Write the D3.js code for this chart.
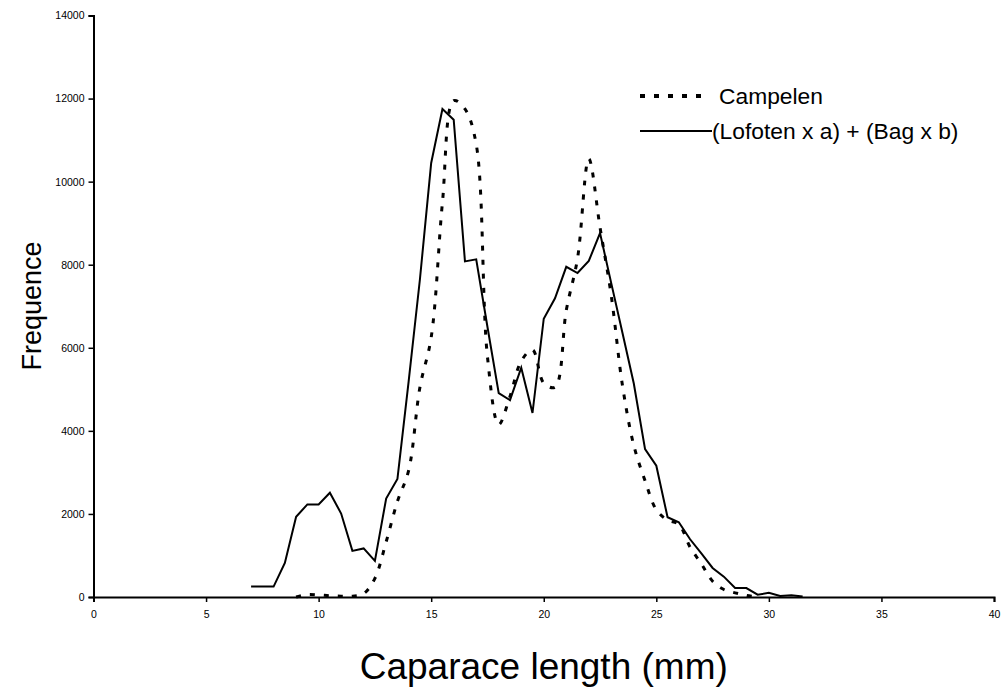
<!DOCTYPE html>
<html>
<head>
  <meta charset="UTF-8">
  <style>
    body { margin: 0; background: #fff; }
    text { font-family: Arial, "Liberation Sans", sans-serif; fill: #000; }
  </style>
</head>
<body>
<script src="https://d3js.org/d3.v7.min.js"></script>
<script>
// carapace length classes (mm) and frequencies
var lengthCampelen = [9,9.5,10,10.5,11,11.5,12,12.5,13,13.5,14,14.5,15,15.5,16,16.5,17,17.5,18,18.5,19,19.5,20,20.5,21,21.5,22,22.5,23,23.5,24,24.5,25,25.5,26,26.5,27,27.5,28,28.5,29,29.5];
var freqCampelen = [0,60,50,30,20,20,80,450,1330,2300,3050,5050,6250,9500,11950,11750,10900,5780,4150,4830,5680,5950,5150,5050,6900,8150,10550,8900,7250,5080,3650,2800,2100,1850,1750,1200,800,380,180,100,40,0];

var lengthMix = [7,7.5,8,8.5,9,9.5,10,10.5,11,11.5,12,12.5,13,13.5,14,14.5,15,15.5,16,16.5,17,17.5,18,18.5,19,19.5,20,20.5,21,21.5,22,22.5,23,23.5,24,24.5,25,25.5,26,26.5,27,27.5,28,28.5,29,29.5,30,30.5,31,31.5];
var freqMix = [250,250,250,820,1930,2230,2230,2510,2010,1110,1170,870,2370,2840,5200,7650,10450,11750,11490,8080,8130,6500,4910,4740,5520,4430,6700,7190,7950,7800,8090,8760,7550,6350,5140,3560,3160,1920,1800,1390,1050,700,490,215,215,55,100,25,40,10];

var xTicks = [0,5,10,15,20,25,30,35,40];
var yTicks = [0,2000,4000,6000,8000,10000,12000,14000];
var seriesNames = ["Campelen", "(Lofoten x a) + (Bag x b)"];

var W = 1007, H = 688;
var svg = d3.select("body").append("svg")
  .attr("width", W)
  .attr("height", H);

var x = d3.scaleLinear().domain([0, 40]).range([93.5, 994]);
var y = d3.scaleLinear().domain([0, 14000]).range([597, 15.5]);

// axes
var xAxis = svg.append("g")
  .attr("transform", "translate(0," + y(0) + ")")
  .call(d3.axisBottom(x).tickValues(xTicks).tickSize(5).tickPadding(9));
var yAxis = svg.append("g")
  .attr("transform", "translate(" + x(0) + ",0)")
  .call(d3.axisLeft(y).tickValues(yTicks).tickFormat(d3.format("d")).tickSize(5).tickPadding(4));

[xAxis, yAxis].forEach(function(a) {
  a.select(".domain").attr("stroke", "#000").attr("stroke-width", 2);
  a.selectAll(".tick line").attr("stroke", "#000").attr("stroke-width", 1.5);
  a.selectAll(".tick text").attr("font-size", 10.5).attr("font-family", "Arial, 'Liberation Sans', sans-serif");
});

// series
var line = d3.line()
  .x(function(d) { return x(d[0]); })
  .y(function(d) { return y(d[1]); });

svg.append("path")
  .datum(d3.zip(lengthMix, freqMix))
  .attr("fill", "none")
  .attr("stroke", "#000")
  .attr("stroke-width", 2)
  .attr("d", line);

svg.append("path")
  .datum(d3.zip(lengthCampelen, freqCampelen))
  .attr("fill", "none")
  .attr("stroke", "#000")
  .attr("stroke-width", 3)
  .attr("stroke-dasharray", "5,9")
  .attr("d", line.curve(d3.curveCatmullRom));

// legend
var leg = svg.append("g");
leg.append("line")
  .attr("x1", 640).attr("x2", 708).attr("y1", 96).attr("y2", 96)
  .attr("stroke", "#000").attr("stroke-width", 4).attr("stroke-dasharray", "5,9");
leg.append("line")
  .attr("x1", 640).attr("x2", 712).attr("y1", 131).attr("y2", 131)
  .attr("stroke", "#000").attr("stroke-width", 2);
leg.selectAll(".lbl")
  .data(seriesNames)
  .enter().append("text")
  .attr("x", function(d, i) { return i == 0 ? 719 : 712; })
  .attr("y", function(d, i) { return 96 + i * 35; })
  .attr("dy", "0.35em")
  .attr("font-size", 22.8)
  .text(function(d) { return d; });

// axis titles
svg.append("text")
  .attr("x", (x(0) + x(40)) / 2)
  .attr("y", 679)
  .attr("text-anchor", "middle")
  .attr("font-size", 37)
  .text("Caparace length (mm)");

svg.append("text")
  .attr("transform", "translate(41,306) rotate(-90)")
  .attr("text-anchor", "middle")
  .attr("font-size", 27)
  .text("Frequence");
</script>
</body>
</html>
